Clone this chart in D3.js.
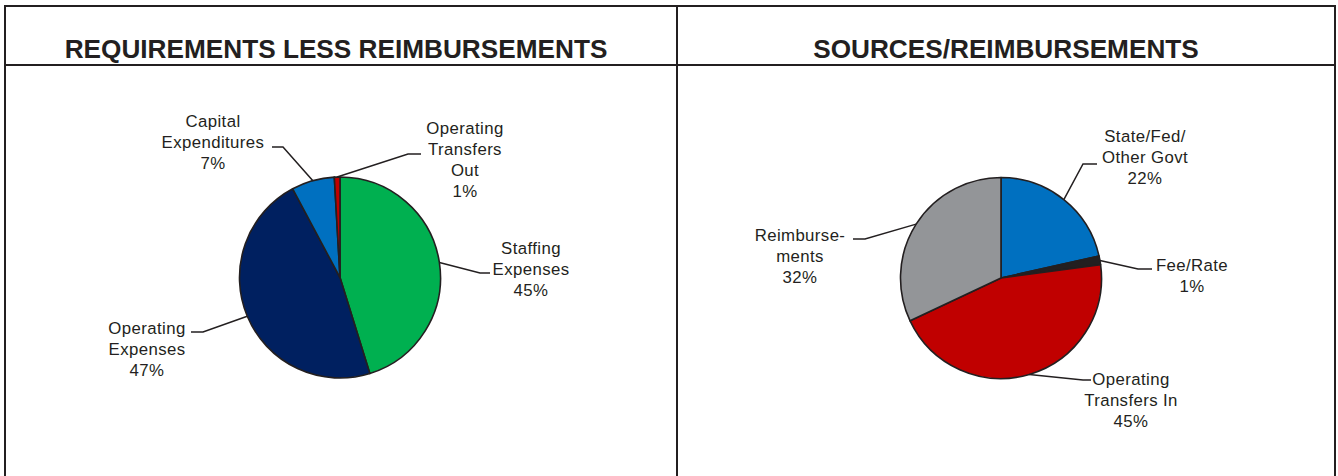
<!DOCTYPE html>
<html>
<head>
<meta charset="utf-8">
<script src="https://cdn.jsdelivr.net/npm/d3@7/dist/d3.min.js"></script>
<style>
  html, body { margin: 0; padding: 0; background: #fff; }
  svg { display: block; }
  text { font-family: "Liberation Sans", Arial, sans-serif; fill: #231f20; }
</style>
</head>
<body>
<svg id="chart" width="1338" height="476"></svg>
<script>
// ---- data ----
const titles = ["REQUIREMENTS LESS REIMBURSEMENTS", "SOURCES/REIMBURSEMENTS"];

const reqCategories = ["Staffing Expenses", "Operating Expenses", "Capital Expenditures", "Operating Transfers Out"];
const reqLabelLines = [["Staffing", "Expenses"], ["Operating", "Expenses"], ["Capital", "Expenditures"], ["Operating", "Transfers", "Out"]];
const reqValues = [45.2, 47.0, 6.9, 0.9];
const reqColors = ["#00b050", "#002060", "#0070c0", "#c00000"];

const srcCategories = ["State/Fed/Other Govt", "Fee/Rate", "Operating Transfers In", "Reimbursements"];
const srcLabelLines = [["State/Fed/", "Other Govt"], ["Fee/Rate"], ["Operating", "Transfers In"], ["Reimburse-", "ments"]];
const srcValues = [21.5, 1.4, 45.1, 32.0];
const srcColors = ["#0070c0", "#231f20", "#c00000", "#939598"];

// ---- layout (label placement: text centre x, first baseline y, elbow point, horizontal end x) ----
const reqLayout = [
  { tx: 531, ty: 254, ex: 480, ey: 273, hx: 490 },
  { tx: 147, ty: 334, ex: 203, ey: 332, hx: 191 },
  { tx: 213, ty: 127, ex: 283, ey: 147, hx: 272 },
  { tx: 465, ty: 134, ex: 408, ey: 154, hx: 421 }
];
const srcLayout = [
  { tx: 1145, ty: 142, ex: 1083, ey: 164, hx: 1097 },
  { tx: 1192, ty: 270.5, ex: 1138, ey: 269, hx: 1152 },
  { tx: 1131, ty: 385, ex: 1083, ey: 380, hx: 1091 },
  { tx: 800, ty: 240.5, ex: 865, ey: 239, hx: 853 }
];

const svg = d3.select("#chart");
const ink = "#231f20";

// frame
const frame = svg.append("g").attr("fill", "none").attr("stroke", ink).attr("stroke-width", 2);
frame.append("line").attr("x1", 4).attr("x2", 1336).attr("y1", 6).attr("y2", 6);
frame.append("line").attr("x1", 4).attr("x2", 1336).attr("y1", 65).attr("y2", 65);
frame.append("line").attr("x1", 5).attr("x2", 5).attr("y1", 5).attr("y2", 476);
frame.append("line").attr("x1", 677).attr("x2", 677).attr("y1", 5).attr("y2", 476);
frame.append("line").attr("x1", 1335).attr("x2", 1335).attr("y1", 5).attr("y2", 476);

// titles
const titleX = [336, 1006];
titles.forEach((t, i) => {
  svg.append("text")
    .attr("x", titleX[i]).attr("y", 57.5)
    .attr("text-anchor", "middle")
    .attr("font-size", 26.2).attr("font-weight", "bold")
    .text(t);
});

function drawPie(cx, cy, r, categories, values, colors, labelLines, layout) {
  const pie = d3.pie().sort(null).value(d => d)(values);
  const arc = d3.arc().innerRadius(0).outerRadius(r);
  const g = svg.append("g").attr("transform", `translate(${cx},${cy})`);
  g.selectAll("path").data(pie).join("path")
    .attr("d", arc)
    .attr("fill", (d, i) => colors[i])
    .attr("stroke", ink).attr("stroke-width", 1.6).attr("stroke-linejoin", "round");

  pie.forEach((d, i) => {
    const mid = (d.startAngle + d.endAngle) / 2;
    const sx = cx + r * Math.sin(mid);
    const sy = cy - r * Math.cos(mid);
    const L = layout[i];
    svg.append("polyline")
      .attr("points", `${sx},${sy} ${L.ex},${L.ey} ${L.hx},${L.ey}`)
      .attr("fill", "none").attr("stroke", ink).attr("stroke-width", 1.5);
    const lines = labelLines[i].concat([Math.round(values[i]) + "%"]);
    const t = svg.append("text")
      .attr("text-anchor", "middle")
      .attr("font-size", 16.8)
      .attr("letter-spacing", 0.4);
    lines.forEach((ln, k) => {
      t.append("tspan").attr("x", L.tx).attr("y", L.ty + k * 21).text(ln);
    });
  });
}

drawPie(340, 277.5, 100.5, reqCategories, reqValues, reqColors, reqLabelLines, reqLayout);
drawPie(1001, 278, 100.5, srcCategories, srcValues, srcColors, srcLabelLines, srcLayout);
</script>
</body>
</html>
